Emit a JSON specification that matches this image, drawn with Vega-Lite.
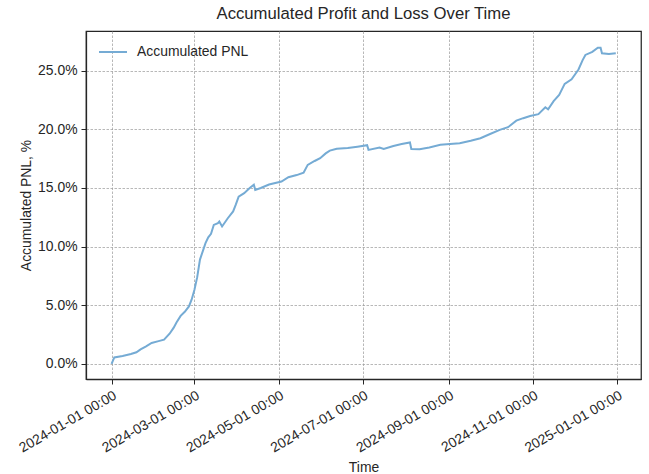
{
  "$schema": "https://vega.github.io/schema/vega-lite/v6.json",
  "width": 555,
  "height": 348,
  "autosize": {"type": "none"},
  "padding": {"left": 86, "top": 31, "right": 8, "bottom": 95},
  "background": "white",
  "title": {
    "text": "Accumulated Profit and Loss Over Time",
    "fontSize": 16.7,
    "font": "Liberation Sans",
    "fontWeight": "normal",
    "color": "#262626",
    "anchor": "middle",
    "offset": 8
  },
  "config": {
    "font": "Liberation Sans",
    "view": {"stroke": "#262626", "strokeWidth": 1.25},
    "axis": {
      "labelFont": "Liberation Sans",
      "labelFontSize": 13.9,
      "labelColor": "#262626",
      "titleFont": "Liberation Sans",
      "titleFontSize": 13.9,
      "titleFontWeight": "normal",
      "titleColor": "#262626",
      "domainColor": "#262626",
      "domainWidth": 1.25,
      "tickColor": "#262626",
      "tickSize": 5,
      "tickWidth": 1,
      "gridColor": "#9a9a9a",
      "gridWidth": 0.7,
      "gridDash": [2.5, 1.5]
    },
    "legend": {
      "labelFont": "Liberation Sans",
      "labelFontSize": 13.9,
      "labelColor": "#262626"
    }
  },
  "data": {
    "values": [
      {"date": "2024-01-01", "pnl": 0.00},
      {"date": "2024-01-03", "pnl": 0.56},
      {"date": "2024-01-09", "pnl": 0.68},
      {"date": "2024-01-15", "pnl": 0.85},
      {"date": "2024-01-19", "pnl": 1.00},
      {"date": "2024-01-22", "pnl": 1.25},
      {"date": "2024-01-26", "pnl": 1.50},
      {"date": "2024-01-30", "pnl": 1.79},
      {"date": "2024-02-04", "pnl": 1.95},
      {"date": "2024-02-08", "pnl": 2.07},
      {"date": "2024-02-12", "pnl": 2.58},
      {"date": "2024-02-15", "pnl": 3.10},
      {"date": "2024-02-17", "pnl": 3.54},
      {"date": "2024-02-20", "pnl": 4.10},
      {"date": "2024-02-23", "pnl": 4.45},
      {"date": "2024-02-26", "pnl": 4.90},
      {"date": "2024-02-28", "pnl": 5.50},
      {"date": "2024-03-01", "pnl": 6.33},
      {"date": "2024-03-03", "pnl": 7.40},
      {"date": "2024-03-05", "pnl": 8.90},
      {"date": "2024-03-07", "pnl": 9.60},
      {"date": "2024-03-09", "pnl": 10.30},
      {"date": "2024-03-11", "pnl": 10.80},
      {"date": "2024-03-13", "pnl": 11.10},
      {"date": "2024-03-15", "pnl": 11.85},
      {"date": "2024-03-18", "pnl": 12.00},
      {"date": "2024-03-19", "pnl": 12.14},
      {"date": "2024-03-21", "pnl": 11.72},
      {"date": "2024-03-25", "pnl": 12.40},
      {"date": "2024-03-29", "pnl": 13.00},
      {"date": "2024-03-31", "pnl": 13.60},
      {"date": "2024-04-02", "pnl": 14.27},
      {"date": "2024-04-06", "pnl": 14.56},
      {"date": "2024-04-10", "pnl": 15.00},
      {"date": "2024-04-13", "pnl": 15.27},
      {"date": "2024-04-14", "pnl": 14.84},
      {"date": "2024-04-18", "pnl": 15.00},
      {"date": "2024-04-24", "pnl": 15.30},
      {"date": "2024-05-03", "pnl": 15.55},
      {"date": "2024-05-08", "pnl": 15.92},
      {"date": "2024-05-14", "pnl": 16.10},
      {"date": "2024-05-19", "pnl": 16.30},
      {"date": "2024-05-22", "pnl": 16.97},
      {"date": "2024-05-27", "pnl": 17.30},
      {"date": "2024-05-31", "pnl": 17.54},
      {"date": "2024-06-04", "pnl": 17.95},
      {"date": "2024-06-07", "pnl": 18.19},
      {"date": "2024-06-12", "pnl": 18.35},
      {"date": "2024-06-20", "pnl": 18.40},
      {"date": "2024-06-27", "pnl": 18.52},
      {"date": "2024-07-04", "pnl": 18.65},
      {"date": "2024-07-05", "pnl": 18.25},
      {"date": "2024-07-13", "pnl": 18.45},
      {"date": "2024-07-16", "pnl": 18.33},
      {"date": "2024-07-23", "pnl": 18.58},
      {"date": "2024-07-29", "pnl": 18.75},
      {"date": "2024-08-04", "pnl": 18.88},
      {"date": "2024-08-05", "pnl": 18.33},
      {"date": "2024-08-11", "pnl": 18.30},
      {"date": "2024-08-18", "pnl": 18.45},
      {"date": "2024-08-26", "pnl": 18.68},
      {"date": "2024-09-02", "pnl": 18.75},
      {"date": "2024-09-09", "pnl": 18.82},
      {"date": "2024-09-17", "pnl": 19.02},
      {"date": "2024-09-24", "pnl": 19.24},
      {"date": "2024-10-01", "pnl": 19.60},
      {"date": "2024-10-08", "pnl": 19.95},
      {"date": "2024-10-14", "pnl": 20.18},
      {"date": "2024-10-20", "pnl": 20.74},
      {"date": "2024-10-25", "pnl": 20.95},
      {"date": "2024-10-30", "pnl": 21.14},
      {"date": "2024-11-05", "pnl": 21.29},
      {"date": "2024-11-10", "pnl": 21.88},
      {"date": "2024-11-12", "pnl": 21.71},
      {"date": "2024-11-16", "pnl": 22.40},
      {"date": "2024-11-20", "pnl": 22.93},
      {"date": "2024-11-24", "pnl": 23.87},
      {"date": "2024-11-29", "pnl": 24.27},
      {"date": "2024-12-04", "pnl": 25.10},
      {"date": "2024-12-07", "pnl": 25.90},
      {"date": "2024-12-09", "pnl": 26.34},
      {"date": "2024-12-14", "pnl": 26.60},
      {"date": "2024-12-18", "pnl": 26.95},
      {"date": "2024-12-20", "pnl": 26.96},
      {"date": "2024-12-21", "pnl": 26.48},
      {"date": "2024-12-26", "pnl": 26.42},
      {"date": "2024-12-31", "pnl": 26.48}
    ]
  },
  "mark": {"type": "line", "strokeWidth": 2, "clip": true},
  "encoding": {
    "x": {
      "field": "date",
      "type": "temporal",
      "scale": {
        "type": "utc",
        "domain": [
          {"year": 2023, "month": 12, "date": 13, "hours": 12, "utc": true},
          {"year": 2025, "month": 1, "date": 18, "hours": 6, "utc": true}
        ]
      },
      "axis": {
        "title": "Time",
        "titlePadding": 6,
        "values": [
          {"year": 2024, "month": 1, "date": 1, "utc": true},
          {"year": 2024, "month": 3, "date": 1, "utc": true},
          {"year": 2024, "month": 5, "date": 1, "utc": true},
          {"year": 2024, "month": 7, "date": 1, "utc": true},
          {"year": 2024, "month": 9, "date": 1, "utc": true},
          {"year": 2024, "month": 11, "date": 1, "utc": true},
          {"year": 2025, "month": 1, "date": 1, "utc": true}
        ],
        "labelExpr": "utcFormat(datum.value, '%Y-%m-%d %H:%M')",
        "labelAngle": -30,
        "labelAlign": "right",
        "labelBaseline": "top",
        "labelPadding": 4,
        "labelFlush": false,
        "labelOverlap": false,
        "grid": true
      }
    },
    "y": {
      "field": "pnl",
      "type": "quantitative",
      "scale": {"domain": [-1.28, 28.38], "nice": false, "zero": false},
      "axis": {
        "title": "Accumulated PNL, %",
        "titlePadding": 4,
        "values": [0, 5, 10, 15, 20, 25],
        "labelExpr": "format(datum.value, '.1f') + '%'",
        "labelPadding": 4,
        "grid": true
      }
    },
    "color": {
      "datum": "Accumulated PNL",
      "type": "nominal",
      "scale": {"range": ["#75abd4"]},
      "legend": {
        "title": null,
        "orient": "none",
        "legendX": 12,
        "legendY": 6,
        "symbolType": "stroke",
        "symbolSize": 784,
        "symbolStrokeWidth": 2,
        "labelOffset": 9,
        "padding": 0
      }
    }
  }
}
